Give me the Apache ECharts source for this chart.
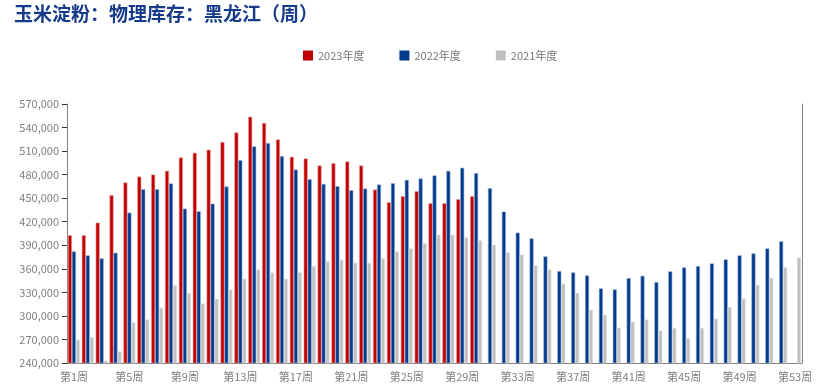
<!DOCTYPE html>
<html>
<head>
<meta charset="utf-8">
<script src="https://cdn.jsdelivr.net/npm/echarts@6/dist/echarts.min.js"></script>
<style>
html,body{margin:0;padding:0;background:#fff;}
#chart{width:833px;height:391px;}
</style>
</head>
<body>
<div id="chart"></div>
<script>
var titleText = '玉米淀粉：物理库存：黑龙江（周）';
var seriesNames = ['2023年度', '2022年度', '2021年度'];
var categories = ['第1周','第2周','第3周','第4周','第5周','第6周','第7周','第8周','第9周','第10周',
  '第11周','第12周','第13周','第14周','第15周','第16周','第17周','第18周','第19周','第20周',
  '第21周','第22周','第23周','第24周','第25周','第26周','第27周','第28周','第29周','第30周',
  '第31周','第32周','第33周','第34周','第35周','第36周','第37周','第38周','第39周','第40周',
  '第41周','第42周','第43周','第44周','第45周','第46周','第47周','第48周','第49周','第50周',
  '第51周','第52周','第53周'];
var values2023 = [402700,402700,418800,453800,469900,477600,480100,484800,501900,507800,
  511700,521500,533800,553800,545700,524900,502700,500600,491600,494600,
  496800,491600,461000,444800,452500,458900,443500,443500,448600,452500];
var values2022 = [382200,377100,373300,380500,431600,461400,461400,468700,436700,433300,
  443100,464800,498500,515900,520200,503600,486500,474200,468200,465300,
  460100,462300,467400,469100,473300,475000,478900,484800,488700,481900,
  462700,432900,406100,398800,375800,357100,355400,351600,335000,333700,
  348200,351100,343000,356700,361800,363500,366900,372000,377100,379700,
  386000,395000];
var values2021 = [269800,273200,243000,254900,291500,295400,310700,338800,329000,315800,
  321800,333700,347300,359200,355400,347300,355400,363500,369400,371600,
  367700,367700,373300,382200,386000,392400,403500,403500,400100,396300,
  390700,380900,378400,364300,359200,341300,329400,307700,301300,285100,
  292800,295400,281300,284700,271500,284700,296600,311500,321800,339600,
  348600,361800,374600];
var yMin = 240000, yMax = 570000, yStep = 30000;

var chart = echarts.init(document.getElementById('chart'));
var font = 'Noto Sans CJK SC';
function fmt(v){ return String(v).replace(/\B(?=(\d{3})+(?!\d))/g, ','); }
function bar(name, data, color, border){
  return {
    name: name, type: 'bar', data: data, barWidth: 4, barGap: '0%',
    itemStyle: { color: color, borderColor: border, borderWidth: 0.6 },
    emphasis: { disabled: true }, animation: false
  };
}
chart.setOption({
  animation: false,
  title: {
    text: titleText, left: 9, top: -1,
    textStyle: { fontFamily: font, fontSize: 19, fontWeight: 'bold', color: '#173B8A' }
  },
  legend: {
    data: seriesNames, left: 298, top: 45, itemWidth: 10, itemHeight: 10, itemGap: 35,
    icon: 'rect',
    itemStyle: { borderWidth: 0 },
    textStyle: { fontFamily: font, fontSize: 11, color: '#777' }
  },
  grid: { left: 67, right: 31, top: 104, bottom: 28, containLabel: false },
  xAxis: {
    type: 'category', data: categories, boundaryGap: true,
    axisLine: { lineStyle: { color: '#808080', width: 1 } },
    axisTick: { interval: 3, length: 5, lineStyle: { color: '#333' } },
    axisLabel: { interval: 3, fontFamily: font, fontSize: 11, color: '#808080', margin: 8 }
  },
  yAxis: [{
    type: 'value', min: yMin, max: yMax, interval: yStep,
    axisLine: { show: true, lineStyle: { color: '#808080' } },
    axisTick: { show: true, length: 5, lineStyle: { color: '#333' } },
    splitLine: { show: false },
    axisLabel: { formatter: fmt, fontFamily: font, fontSize: 11, color: '#808080', margin: 8 }
  }, {
    type: 'value', min: yMin, max: yMax, interval: yStep, position: 'right',
    axisLine: { show: true, lineStyle: { color: '#808080' } },
    axisTick: { show: false }, axisLabel: { show: false }, splitLine: { show: false }
  }],
  series: [
    bar(seriesNames[0], values2023, '#C00000', '#E99A9A'),
    bar(seriesNames[1], values2022, '#003A8C', '#8FA8D0'),
    bar(seriesNames[2], values2021, '#C0C0C0', '#E2E2E2')
  ]
});
</script>
</body>
</html>
